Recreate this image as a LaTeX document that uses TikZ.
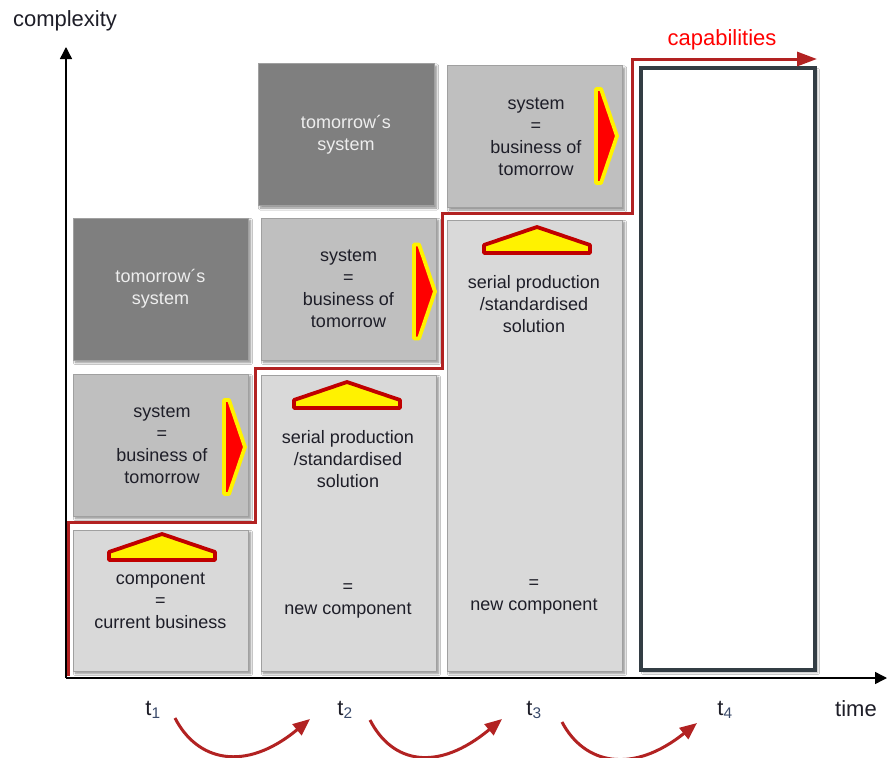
\documentclass[tikz,border=0pt]{standalone}
\usepackage{fontspec}
\setmainfont{Liberation Sans}
\usetikzlibrary{arrows.meta,shadows.blur,calc}

\definecolor{boxlight}{HTML}{D9D9D9}
\definecolor{boxmid}{HTML}{BFBFBF}
\definecolor{boxdark}{HTML}{7F7F7F}
\definecolor{boxedge}{HTML}{A0A0A0}
\definecolor{stepred}{HTML}{B22222}
\definecolor{hatred}{HTML}{C00000}
\definecolor{framegray}{HTML}{333D44}
\definecolor{inktext}{HTML}{1E1E28}
\definecolor{paletext}{HTML}{EEEEEE}
\definecolor{subblue}{HTML}{3A4A6A}

\tikzset{
  boxtext/.style={font=\fontsize{18}{22}\selectfont, align=center, text=inktext, inner sep=0pt},
  panel/.style={boxtext, draw=boxedge, line width=0.8pt, minimum width=175pt,
    blur shadow={shadow xshift=2.5pt, shadow yshift=-2.5pt, shadow blur steps=6, shadow opacity=45}},
  lightpanel/.style={panel, fill=boxlight, minimum height=141pt},
  midpanel/.style={panel, fill=boxmid, minimum height=142pt},
  darkpanel/.style={panel, fill=boxdark, minimum height=142pt, text=paletext},
  axislabel/.style={font=\fontsize{22}{24}\selectfont, text=inktext, inner sep=0pt, anchor=base},
  axisline/.style={line width=1.4pt, -{Triangle[length=12pt,width=12pt]}},
  stepline/.style={draw=stepred, line width=3pt, -{Triangle[length=20pt,width=14pt]}},
  swing/.style={draw=stepred, line width=3pt, -{Triangle[length=17pt,width=14pt]}},
  pushright/.pic={\draw[fill=red, draw=yellow, line width=3.8pt, line join=round]
    (0,-47) -- (5,-47) -- (21,0) -- (5,47) -- (0,47) -- cycle;},
  pushup/.pic={\draw[fill=yellow, draw=hatred, line width=3.8pt, line join=round]
    (-53,0) -- (-53,-8) -- (0,-26) -- (53,-8) -- (53,0) -- cycle;}
}

\begin{document}
\begin{tikzpicture}[x=1pt, y=-1pt]
\useasboundingbox[fill=white] (0,0) rectangle (887,758);

% ---- column 1
\node[lightpanel] (c1low) at (160.5,600.5) {component\\=\\current business};
\node[midpanel] (c1mid) at (160.5,445) {\hspace*{3pt}system\\\hspace*{3pt}=\\\hspace*{3pt}business of\\\hspace*{3pt}tomorrow};
\node[darkpanel] (c1top) at (160.5,289) {tomorrow´s\\system};

% ---- column 2
\node[panel, fill=boxlight, minimum height=296pt] (c2tall) at (348.5,523) {};
\node[midpanel] (c2mid) at (348.5,289) {system\\=\\business of\\tomorrow};
\node[darkpanel, minimum width=176pt] (c2top) at (346,134.5) {tomorrow´s\\system};
\node[boxtext] (c2serial) at (348,459) {serial production\\/standardised\\solution};
\node[boxtext] (c2new) at (348,601) {=\\new component};

% ---- column 3
\node[panel, fill=boxlight, minimum height=451pt] (c3tall) at (534.5,445.5) {};
\node[midpanel] (c3top) at (534.5,136.5) {\hspace*{3pt}system\\\hspace*{3pt}=\\\hspace*{3pt}business of\\\hspace*{3pt}tomorrow};
\node[boxtext] (c3serial) at (534,304) {serial production\\/standardised\\solution};
\node[boxtext] (c3new) at (534,596.5) {=\\new component};

% ---- column 4: empty frame
\node[draw=framegray, line width=3.2pt, fill=white, minimum width=174pt, minimum height=602pt,
  blur shadow={shadow xshift=2.5pt, shadow yshift=-2.5pt, shadow blur steps=6, shadow opacity=30}]
  (c4) at (728,369) {};

% ---- push markers
\pic at (224,447) {pushright};
\pic at (414,291.5) {pushright};
\pic at (596,136) {pushright};
\pic at (162,560) {pushup};
\pic at (347,408) {pushup};
\pic at (537,253) {pushup};

% ---- axes
\coordinate (origin) at (66,678);
\coordinate (ytip) at (66,47);
\coordinate (xtip) at (887,678);
\draw[axisline] (origin) -- (ytip);
\draw[axisline] (origin) -- (xtip);
\node[axislabel] (complexity) at (65,26) {complexity};
\node[axislabel] (time) at (856,716) {time};

% ---- capability staircase
\coordinate (s0) at (68,676);
\coordinate (s1) at (68,522);
\coordinate (s2) at (255,522);
\coordinate (s3) at (255,368);
\coordinate (s4) at (442,368);
\coordinate (s5) at (442,213);
\coordinate (s6) at (632,213);
\coordinate (s7) at (632,59);
\coordinate (s8) at (817,59);
\draw[stepline, line join=miter] (s0) -- (s1) -- (s2) -- (s3) -- (s4) -- (s5) -- (s6) -- (s7) -- (s8);
\node[axislabel, text=red] (capabilities) at (722,45) {capabilities};

% ---- time steps
\node[axislabel] (t1) at (153,715) {t\textsubscript{\color{subblue}1}};
\node[axislabel] (t2) at (345,715) {t\textsubscript{\color{subblue}2}};
\node[axislabel] (t3) at (534,715) {t\textsubscript{\color{subblue}3}};
\node[axislabel] (t4) at (725,715) {t\textsubscript{\color{subblue}4}};

\coordinate (a1s) at (175,718);
\coordinate (a1e) at (310,719);
\coordinate (a2s) at (370,720);
\coordinate (a2e) at (502,719);
\coordinate (a3s) at (562,722);
\coordinate (a3e) at (697,723);
\draw[swing] (a1s) .. controls ($(a1s)+(22,43)$) and ($(a1e)+(-65,54)$) .. (a1e);
\draw[swing] (a2s) .. controls ($(a2s)+(22,43)$) and ($(a2e)+(-65,54)$) .. (a2e);
\draw[swing] (a3s) .. controls ($(a3s)+(22,42)$) and ($(a3e)+(-65,52)$) .. (a3e);
\end{tikzpicture}
\end{document}
